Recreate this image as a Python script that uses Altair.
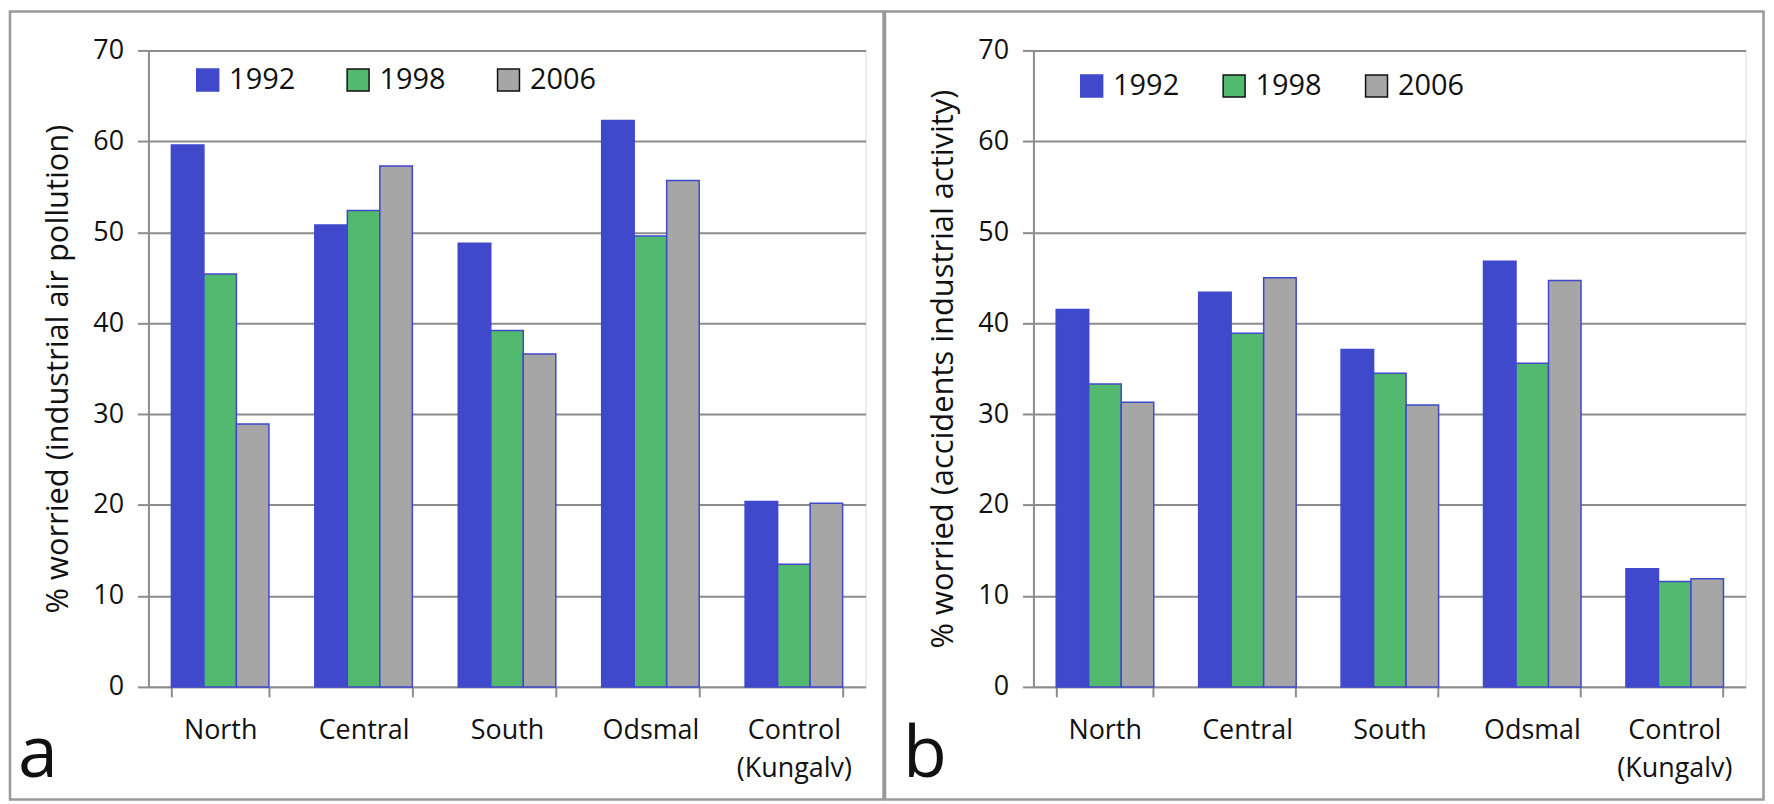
import altair as alt
import pandas as pd

regions = ["North", "Central", "South", "Odsmal", "Control (Kungalv)"]
years = ["1992", "1998", "2006"]

air_1992 = [59.6, 50.8, 48.8, 62.3, 20.4]
air_1998 = [45.4, 52.4, 39.2, 49.6, 13.5]
air_2006 = [28.9, 57.3, 36.6, 55.7, 20.2]

acc_1992 = [41.5, 43.4, 37.1, 46.8, 13.0]
acc_1998 = [33.3, 38.9, 34.5, 35.6, 11.6]
acc_2006 = [31.3, 45.0, 31.0, 44.7, 11.9]

colors = ["#4048CC", "#52B96E", "#A6A6A6"]
FONT = "Open Sans"
GRID = "#8c8c8c"


def make_df(v1, v2, v3):
    rows = []
    for yr, vals in zip(years, [v1, v2, v3]):
        for r, v in zip(regions, vals):
            rows.append({"region": r, "year": yr, "value": v})
    return pd.DataFrame(rows)


def panel(v1, v2, v3, ytitle, letter, legx, legy, colpad, fx, fx2, width):
    height = 639
    df = make_df(v1, v2, v3)
    bars = alt.Chart(df).mark_bar(strokeWidth=1.5).encode(
        x=alt.X(
            "region:N",
            sort=regions,
            scale=alt.Scale(paddingInner=0.32, paddingOuter=0.16),
            axis=alt.Axis(
                title=None,
                labelAngle=0,
                labelFont=FONT,
                labelFontSize=27,
                labelColor="#111111",
                labelPadding=21,
                labelLineHeight=38,
                labelExpr="datum.value == 'Control (Kungalv)' ? ['Control', '(Kungalv)'] : datum.label",
                tickBand="extent",
                tickSize=10,
                tickWidth=2,
                tickColor=GRID,
                domainColor=GRID,
                domainWidth=2,
                grid=False,
            ),
        ),
        xOffset=alt.XOffset("year:N", sort=years),
        y=alt.Y(
            "value:Q",
            scale=alt.Scale(domain=[0, 70]),
            axis=alt.Axis(
                title=ytitle,
                values=[0, 10, 20, 30, 40, 50, 60, 70],
                labelFont=FONT,
                labelFontSize=27,
                labelColor="#111111",
                labelPadding=14,
                tickSize=11,
                tickWidth=2,
                tickColor=GRID,
                domainColor=GRID,
                domainWidth=2,
                grid=True,
                gridColor=GRID,
                gridWidth=2,
                titleFont=FONT,
                titleFontSize=31,
                titleFontWeight="normal",
                titleColor="#111111",
                titlePadding=18,
            ),
        ),
        stroke=alt.value("#4048CC"),
        fill=alt.Fill(
            "year:N",
            sort=years,
            scale=alt.Scale(domain=years, range=colors),
            legend=alt.Legend(
                title=None,
                orient="none",
                legendX=legx,
                legendY=legy,
                direction="horizontal",
                symbolType="square",
                symbolSize=484,
                symbolStrokeWidth=1.5,
                symbolStrokeColor=alt.ExprRef(expr="datum.value === '1992' ? '#4048CC' : '#111111'"),
                labelFont=FONT,
                labelFontSize=29,
                labelColor="#111111",
                labelOffset=7,
                columnPadding=colpad,
                padding=0,
            ),
        ),
    )
    one = pd.DataFrame({"k": [0]})
    frame = alt.Chart(one).mark_rect(fill=None, stroke="#999999", strokeWidth=2.5).encode(
        x=alt.value(fx), x2=alt.value(fx2), y=alt.value(-39), y2=alt.value(752)
    )
    lab = alt.Chart(one).mark_text(
        text=letter, font=FONT, fontSize=72, align="left", baseline="alphabetic", color="#111111"
    ).encode(x=alt.value(-131), y=alt.value(729))
    return alt.layer(frame, bars, lab).properties(width=width, height=height)


pa = panel(air_1992, air_1998, air_2006, "% worried (industrial air pollution)", "a",
           45, 15, 48, -139, 738, 720)
pb = panel(acc_1992, acc_1998, acc_2006, "% worried (accidents industrial activity)", "b",
           44, 21, 40, -149, 733, 715)

chart = alt.hconcat(pa, pb, spacing=-2.5).resolve_legend(fill="independent").properties(
    padding=0
).configure_view(stroke=None).configure(font=FONT)

chart.save("out.html", embed_options={"renderer": "svg", "actions": False})
